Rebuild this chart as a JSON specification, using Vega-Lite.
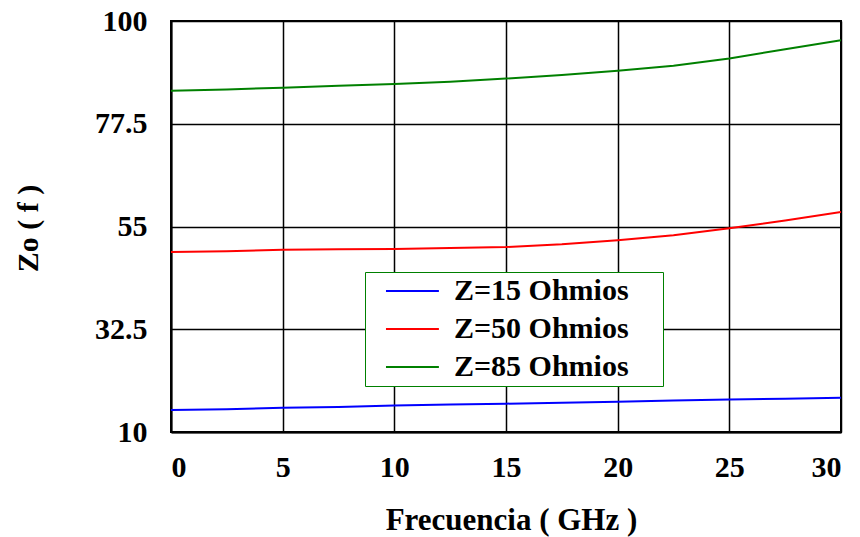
{
  "$schema": "https://vega.github.io/schema/vega-lite/v6.json",
  "width": 670,
  "height": 411,
  "autosize": {"type": "none"},
  "padding": {"left": 171, "top": 21, "right": 19, "bottom": 105},
  "background": "white",
  "config": {
    "view": {"stroke": "black", "strokeWidth": 2},
    "font": "Liberation Serif"
  },
  "data": {"values": [
    {"f": 0, "z": 14.8, "s": "Z=15 Ohmios"},
    {"f": 2.5, "z": 15.0, "s": "Z=15 Ohmios"},
    {"f": 5, "z": 15.3, "s": "Z=15 Ohmios"},
    {"f": 7.5, "z": 15.5, "s": "Z=15 Ohmios"},
    {"f": 10, "z": 15.8, "s": "Z=15 Ohmios"},
    {"f": 12.5, "z": 16.0, "s": "Z=15 Ohmios"},
    {"f": 15, "z": 16.2, "s": "Z=15 Ohmios"},
    {"f": 17.5, "z": 16.4, "s": "Z=15 Ohmios"},
    {"f": 20, "z": 16.6, "s": "Z=15 Ohmios"},
    {"f": 22.5, "z": 16.9, "s": "Z=15 Ohmios"},
    {"f": 25, "z": 17.1, "s": "Z=15 Ohmios"},
    {"f": 27.5, "z": 17.3, "s": "Z=15 Ohmios"},
    {"f": 30, "z": 17.5, "s": "Z=15 Ohmios"},
    {"f": 0, "z": 49.4, "s": "Z=50 Ohmios"},
    {"f": 2.5, "z": 49.6, "s": "Z=50 Ohmios"},
    {"f": 5, "z": 49.9, "s": "Z=50 Ohmios"},
    {"f": 7.5, "z": 50.0, "s": "Z=50 Ohmios"},
    {"f": 10, "z": 50.1, "s": "Z=50 Ohmios"},
    {"f": 12.5, "z": 50.3, "s": "Z=50 Ohmios"},
    {"f": 15, "z": 50.5, "s": "Z=50 Ohmios"},
    {"f": 17.5, "z": 51.1, "s": "Z=50 Ohmios"},
    {"f": 20, "z": 52.0, "s": "Z=50 Ohmios"},
    {"f": 22.5, "z": 53.1, "s": "Z=50 Ohmios"},
    {"f": 25, "z": 54.6, "s": "Z=50 Ohmios"},
    {"f": 27.5, "z": 56.3, "s": "Z=50 Ohmios"},
    {"f": 30, "z": 58.2, "s": "Z=50 Ohmios"},
    {"f": 0, "z": 84.7, "s": "Z=85 Ohmios"},
    {"f": 2.5, "z": 85.0, "s": "Z=85 Ohmios"},
    {"f": 5, "z": 85.4, "s": "Z=85 Ohmios"},
    {"f": 7.5, "z": 85.8, "s": "Z=85 Ohmios"},
    {"f": 10, "z": 86.2, "s": "Z=85 Ohmios"},
    {"f": 12.5, "z": 86.7, "s": "Z=85 Ohmios"},
    {"f": 15, "z": 87.4, "s": "Z=85 Ohmios"},
    {"f": 17.5, "z": 88.2, "s": "Z=85 Ohmios"},
    {"f": 20, "z": 89.1, "s": "Z=85 Ohmios"},
    {"f": 22.5, "z": 90.2, "s": "Z=85 Ohmios"},
    {"f": 25, "z": 91.8, "s": "Z=85 Ohmios"},
    {"f": 27.5, "z": 93.8, "s": "Z=85 Ohmios"},
    {"f": 30, "z": 95.8, "s": "Z=85 Ohmios"}
  ]},
  "mark": {"type": "line", "strokeWidth": 2, "clip": true},
  "encoding": {
    "x": {
      "field": "f", "type": "quantitative",
      "scale": {"domain": [0, 30], "nice": false},
      "axis": {
        "values": [0, 5, 10, 15, 20, 25, 30],
        "title": "Frecuencia ( GHz )",
        "titleFont": "Liberation Serif", "titleFontSize": 31, "titleFontWeight": "bold",
        "titleColor": "black", "titleX": 340, "titleY": 88, "titleBaseline": "middle", "titleAlign": "center",
        "labelFont": "Liberation Serif", "labelFontSize": 30, "labelColor": "black", "labelFontWeight": "bold",
        "labelPadding": 20, "ticks": false,
        "grid": true, "gridColor": "black", "gridWidth": 1.5, "gridOpacity": 1,
        "domainColor": "black", "domainWidth": 2
      }
    },
    "y": {
      "field": "z", "type": "quantitative",
      "scale": {"domain": [10, 100], "nice": false, "zero": false},
      "axis": {
        "values": [10, 32.5, 55, 77.5, 100],
        "labelExpr": "'' + datum.value",
        "title": "Zo ( f )",
        "titleFont": "Liberation Serif", "titleFontSize": 30, "titleFontWeight": "bold",
        "titleColor": "black", "titleX": -143, "titleY": 207, "titleAngle": -90,
        "titleBaseline": "middle", "titleAlign": "center",
        "labelFont": "Liberation Serif", "labelFontSize": 30, "labelColor": "black", "labelFontWeight": "bold",
        "labelPadding": 24, "ticks": false,
        "grid": true, "gridColor": "black", "gridWidth": 1.5, "gridOpacity": 1,
        "domainColor": "black", "domainWidth": 2
      }
    },
    "color": {
      "field": "s", "type": "nominal",
      "scale": {"domain": ["Z=15 Ohmios", "Z=50 Ohmios", "Z=85 Ohmios"], "range": ["#0000ff", "#ff0000", "#008000"]},
      "legend": {
        "title": null,
        "orient": "none",
        "legendX": 194,
        "legendY": 251,
        "strokeColor": "#008000",
        "fillColor": "white",
        "padding": 4,
        "symbolType": "M0.15,0H4.15",
        "symbolSize": 700,
        "symbolStrokeWidth": 2,
        "labelFont": "Liberation Serif",
        "labelFontSize": 30,
        "labelFontWeight": "bold",
        "labelColor": "black",
        "labelOffset": 55,
        "labelLimit": 0,
        "labelExpr": "datum.label + ' \u2800'",
        "rowPadding": 8
      }
    }
  }
}
